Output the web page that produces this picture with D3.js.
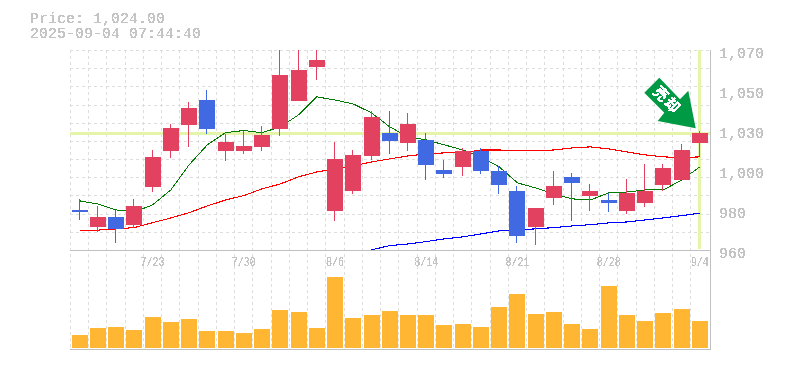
<!DOCTYPE html>
<html>
<head>
<meta charset="utf-8">
<script src="https://cdn.jsdelivr.net/npm/d3@7"></script>
<style>
  html, body { margin: 0; padding: 0; background: #fff; }
  text { font-family: "Liberation Mono", monospace; fill: #c4c4c4; filter: url(#hardText); }
</style>
</head>
<body>
<div class="chart"></div>
<script>
var svgWidth = 785;
var svgHeight = 370;

var dates = ["7/16","7/17","7/18","7/22","7/23","7/24","7/25","7/28","7/29","7/30","7/31","8/1","8/4","8/5","8/6","8/7","8/8","8/12","8/13","8/14","8/15","8/18","8/19","8/20","8/21","8/22","8/25","8/26","8/27","8/28","8/29","9/1","9/2","9/3","9/4"];
var dateLabels = ["7/23","7/30","8/6","8/14","8/21","8/28","9/4"];

var opens = [982.3,973,978.3,974.1,995,1014.9,1029.1,1042.8,1014.9,1014.8,1017,1026.9,1042.3,1061,981.8,992.8,1012,1024.7,1019.2,1020.8,1004.3,1006,1014.8,1003.8,992.8,973,988.9,1000.5,990,987.8,981.8,986.2,996.1,998.8,1019.2];
var highs = [988.2,984.5,982.3,988.4,1015.3,1029.6,1041.7,1048.3,1024.1,1025.8,1028.5,1072,1075,1078,1019.7,1015.3,1036.8,1036.8,1035.7,1024.7,1009.8,1016.4,1016.4,1006.5,995.5,983.4,1003.8,1002.7,996.6,991.7,999.4,1007.6,1007.6,1018.6,1025.8];
var lows = [976.8,970.4,964.3,972.6,992.2,1011.1,1017.1,1024.1,1009.4,1013.1,1014.8,1023,1042.3,1053.8,976.3,991.1,1009.8,1013.1,1014.8,998.8,999.9,1001,1002.1,991.1,964.2,963.1,985.1,976.3,981.8,981.2,980.1,984,992.8,998.8,1012];
var closes = [981.2,978.3,971.9,984.5,1011.5,1027.4,1038.4,1026.9,1019.7,1017.5,1023.6,1056.6,1059.3,1064.8,1010.4,1012.6,1033.5,1020.3,1029.6,1007.1,1002.1,1014.8,1003.8,996.1,968,983.4,995.5,997.2,992.8,986.2,991.7,992.8,1005.4,1015.3,1024.7];

var maShort = [987.3,985.6,982.3,981.2,985.1,993.3,1007.1,1018.1,1024.8,1026,1024.8,1028,1034.6,1044.5,1042.8,1040.6,1035.7,1028,1022.5,1020.8,1018.1,1015.3,1011.5,1006,997.2,994.4,991.1,988.4,987.8,991.7,992.2,993.3,993.3,998.8,1006];
var maMid = [971.2,971.2,971.9,972.6,975.3,977.9,980.8,984.5,987.8,990.2,993.9,996.6,1000.5,1003.2,1004.9,1006.5,1008.7,1010.4,1012,1013.1,1013.7,1013.7,1015.3,1015.3,1014.8,1014.8,1015.3,1016.4,1017,1015.9,1014.2,1012.6,1011.5,1011.1,1011.5];
var maLong = [null,null,null,null,null,null,null,null,null,null,null,null,null,null,null,null,960.4,962.7,963.6,964.9,966.4,967.5,969.1,970.8,971.3,971.9,972.6,973.5,974.2,975.2,975.7,976.8,977.9,979.2,980.5];

var volumes = [13,20,21,18,31,26,29,17,17,15,19,38,36,20,71,30,33,37,33,33,23,24,21,41,54,34,36,24,19,62,33,27,35,39,27];

var priceTicks = [960,982,1004,1026,1048,1070];
var priceGrid = [960,970,980,990,1000,1010,1020,1030,1040,1050,1060,1070];
var lastPrice = 1024;
var priceText = "Price: 1,024.00";
var timeText = "2025-09-04 07:44:40";
var signalText = "売却";

var svg = d3.select(".chart")
  .append("svg")
  .attr("width", svgWidth)
  .attr("height", svgHeight)
  .style("display", "block");

// the reference text is not antialiased, so threshold the alpha
var hardText = svg.append("filter").attr("id", "hardText")
  .attr("x", "-10%").attr("y", "-20%").attr("width", "120%").attr("height", "140%");
hardText.append("feComponentTransfer")
  .append("feFuncA")
  .attr("type", "discrete")
  .attr("tableValues", "0 1 1");

var x = d3.scaleBand().domain(dates).range([70.5, 709]);
var y = d3.scaleLinear().domain([960, 1070]).range([250.5, 50.5]);
var yVol = d3.scaleLinear().domain([0, 100]).range([348, 248]);

svg.append("clipPath").attr("id", "plot")
  .append("rect")
  .attr("x", 70).attr("y", 50)
  .attr("width", 640).attr("height", 200);

// dashed grid
var gridColor = "#ddd";
var grid = svg.append("g")
  .attr("stroke", gridColor)
  .attr("stroke-dasharray", "3,3")
  .attr("shape-rendering", "crispEdges");

grid.selectAll(".v")
  .data(dates)
  .enter().append("line")
  .attr("x1", d => Math.floor(x(d)) + 0.5)
  .attr("x2", d => Math.floor(x(d)) + 0.5)
  .attr("y1", 50)
  .attr("y2", 350);

grid.selectAll(".h")
  .data(priceGrid)
  .enter().append("line")
  .attr("x1", 70)
  .attr("x2", 710)
  .attr("y1", d => Math.floor(y(d)) + 0.5)
  .attr("y2", d => Math.floor(y(d)) + 0.5);

// current price cross
var cross = svg.append("g").attr("stroke", "#e4f5a9").attr("stroke-width", 3).attr("shape-rendering", "crispEdges");
cross.append("line")
  .attr("x1", 70).attr("x2", 710)
  .attr("y1", y(lastPrice) - 1).attr("y2", y(lastPrice) - 1);
cross.append("line")
  .attr("x1", x("9/4") + x.bandwidth() / 2)
  .attr("x2", x("9/4") + x.bandwidth() / 2)
  .attr("y1", 50).attr("y2", 249);

// moving averages
var plot = svg.append("g").attr("clip-path", "url(#plot)");

function drawLine(values, color, lineWidth) {
  var line = d3.line()
    .defined(d => d !== null)
    .x((d, i) => x(dates[i]) + x.bandwidth() / 2)
    .y(d => y(d));
  plot.append("path")
    .attr("d", line(values))
    .attr("fill", "none")
    .attr("stroke", color)
    .attr("stroke-width", lineWidth)
    .attr("shape-rendering", "crispEdges");
}
drawLine(maShort, "#007a00", 1);
drawLine(maMid, "#f00", 1.1);
drawLine(maLong, "#00f", 1.1);

// candles
var upColor = "#e2415f";
var downColor = "#4169e1";
var candleColor = (d, i) => closes[i] >= opens[i] ? upColor : downColor;

plot.append("g").attr("shape-rendering", "crispEdges")
  .selectAll("line")
  .data(dates)
  .enter().append("line")
  .attr("x1", d => Math.round(x(d) + x.bandwidth() / 2) - 0.5)
  .attr("x2", d => Math.round(x(d) + x.bandwidth() / 2) - 0.5)
  .attr("y1", (d, i) => y(highs[i]))
  .attr("y2", (d, i) => y(lows[i]))
  .attr("stroke", candleColor);

plot.append("g").attr("shape-rendering", "crispEdges")
  .selectAll("rect")
  .data(dates)
  .enter().append("rect")
  .attr("x", d => Math.round(x(d) + x.bandwidth() / 2) - 8)
  .attr("width", 16)
  .attr("y", (d, i) => y(Math.max(opens[i], closes[i])))
  .attr("height", (d, i) => Math.max(1, y(Math.min(opens[i], closes[i])) - y(Math.max(opens[i], closes[i]))))
  .attr("fill", candleColor);

// volume
svg.append("g").attr("shape-rendering", "crispEdges")
  .selectAll("rect")
  .data(volumes)
  .enter().append("rect")
  .attr("x", (d, i) => Math.round(x(dates[i]) + x.bandwidth() / 2) - 8)
  .attr("width", 16)
  .attr("y", d => yVol(d))
  .attr("height", d => yVol(0) - yVol(d))
  .attr("fill", "#ffb733");

// frame
var frame = svg.append("g").attr("stroke", "#c0c0c0").attr("shape-rendering", "crispEdges");
frame.append("line").attr("x1", 70).attr("x2", 710.5).attr("y1", 250.5).attr("y2", 250.5);
frame.append("line").attr("x1", 70).attr("x2", 710.5).attr("y1", 349.5).attr("y2", 349.5);
frame.append("line").attr("x1", 710.5).attr("x2", 710.5).attr("y1", 50).attr("y2", 350);

// axes
var priceAxis = d3.axisRight(y)
  .tickValues(priceTicks)
  .tickFormat(d => d3.format(",")(Math.round(d / 10) * 10))
  .tickSize(0)
  .tickPadding(9);
var priceG = svg.append("g")
  .attr("transform", "translate(710,0)")
  .call(priceAxis);
priceG.select(".domain").remove();
priceG.selectAll("text")
  .attr("dy", "0.38em")
  .style("font-size", "15px")
  .attr("y", 1);

svg.append("g").selectAll("text")
  .data(dateLabels)
  .enter().append("text")
  .attr("x", d => x(d) + x.bandwidth() / 2)
  .attr("y", 266)
  .attr("text-anchor", "middle")
  .attr("textLength", d => d.length * 6)
  .attr("lengthAdjust", "spacingAndGlyphs")
  .style("font-size", "12px")
  .text(d => d);

// header
var header = svg.append("text").style("font-size", "15px");
header.append("tspan").attr("x", 30).attr("y", 23).text(priceText);
header.append("tspan").attr("x", 30).attr("y", 38).text(timeText);

// signal arrow
var arrow = [[659.3,77.7],[644.3,92.7],[664.3,112.7],[657.7,121],[695.7,128.3],[688.3,90.7],[680,99.3]];
svg.append("path")
  .attr("d", d3.line()(arrow) + "Z")
  .attr("fill", "#009944");
svg.append("text")
  .attr("transform", "translate(667,100.5) rotate(45)")
  .attr("text-anchor", "middle")
  .attr("dominant-baseline", "middle")
  .style("font-family", '"Noto Sans CJK JP"')
  .style("font-size", "14px")
  .style("letter-spacing", "2px")
  .style("font-weight", "bold")
  .style("fill", "#fff")
  .text(signalText);
</script>
</body>
</html>
